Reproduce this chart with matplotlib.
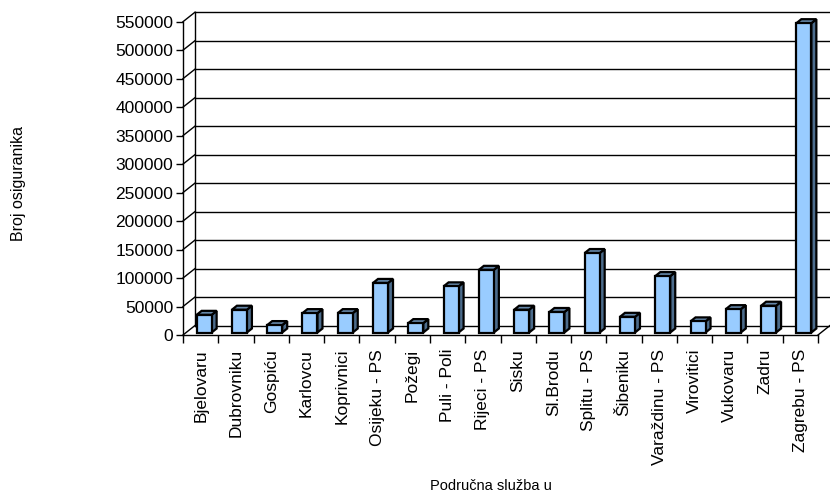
import numpy as np
import matplotlib
matplotlib.use("Agg")
import matplotlib.pyplot as plt
from matplotlib.transforms import offset_copy

plt.rcParams['font.family'] = ['Liberation Sans', 'DejaVu Sans']

# data
sluzbe = ['Bjelovaru', 'Dubrovniku', 'Gospiću', 'Karlovcu', 'Koprivnici',
          'Osijeku - PS', 'Požegi', 'Puli - Poli', 'Rijeci - PS', 'Sisku',
          'Sl.Brodu', 'Splitu - PS', 'Šibeniku', 'Varaždinu - PS',
          'Virovitici', 'Vukovaru', 'Zadru', 'Zagrebu - PS']
osiguranici = [31000, 40000, 13000, 34000, 34000, 87000, 16500, 81000,
               110000, 40000, 36000, 139500, 27500, 99000, 19500, 41000,
               47000, 543000]
y_ticks = list(range(0, 550001, 50000))

n = len(sluzbe)
W, H = 830, 497
fig = plt.figure(figsize=(W / 100, H / 100), dpi=100)
left, right, bottom, top = 183, 818, 335, 21.7
ax = fig.add_axes([left / W, 1 - bottom / H, (right - left) / W, (bottom - top) / H])
ax.set_xlim(-0.5, n - 0.5)
ax.set_ylim(0, 550000)
ax.patch.set_visible(False)

# depth of the 3d box, in pixels
DX, DY = 12, 9.5
px_per_cat = (right - left) / n
px_per_val = (bottom - top) / 550000
back = offset_copy(ax.transData, fig, x=DX, y=DY, units='dots')
x0, x1 = -0.5, n - 0.5
for t in y_ticks:
    # back wall gridline
    ax.plot([x0, x1], [t, t], color='black', lw=1.0, transform=back, clip_on=False, zorder=1)
    # side wall diagonal
    ax.plot([x0, x0 + DX / px_per_cat], [t, t + DY / px_per_val], color='black', lw=1.0,
            clip_on=False, zorder=1)
ax.plot([x0, x0], [0, 550000], color='black', lw=1.0, transform=back, clip_on=False, zorder=1)
# floor right edge
ax.plot([x1, x1 + DX / px_per_cat], [0, DY / px_per_val], color='black', lw=1.0,
        clip_on=False, zorder=1)

# bars: front face + side + top
bar_tr = offset_copy(ax.transData, fig, x=3.5, y=2.5, units='dots')
bw = 15 / px_per_cat
sd_x = 5 / px_per_cat
sd_y = 4 / px_per_val
xs = np.arange(n)
for i, v in enumerate(osiguranici):
    xl = xs[i] - bw / 2
    xr = xs[i] + bw / 2
    ax.fill([xr, xr + sd_x, xr + sd_x, xr], [0, sd_y, v + sd_y, v],
            facecolor='#4c6c8c', edgecolor='black', lw=1.6, transform=bar_tr,
            clip_on=False, zorder=3)
    ax.fill([xl, xr, xr + sd_x, xl + sd_x], [v, v, v + sd_y, v + sd_y],
            facecolor='#6688aa', edgecolor='black', lw=1.6, transform=bar_tr,
            clip_on=False, zorder=3)
ax.bar(xs, osiguranici, width=bw, color='#99ccff', edgecolor='black', lw=1.6,
       transform=bar_tr, clip_on=False, zorder=4)

# front axes
for s in ['top', 'right']:
    ax.spines[s].set_visible(False)
ax.spines['left'].set_linewidth(1.0)
ax.spines['bottom'].set_linewidth(1.0)
ax.set_yticks(y_ticks)
ax.set_yticklabels([str(t) for t in y_ticks], fontsize=12.5)
ax.tick_params(axis='y', length=5, width=1.0, pad=2)
ax.set_xticks(xs)
ax.set_xticklabels(sluzbe, rotation=90, fontsize=12.5)
ax.set_xticks(np.arange(-0.5, n, 1.0), minor=True)
ax.tick_params(axis='x', which='major', length=0, pad=10)
ax.tick_params(axis='x', which='minor', length=6, width=1.0)

fig.text(18 / W, 1 - 183 / H, 'Broj osiguranika', rotation=90, ha='center', va='center',
         fontsize=11.5)
fig.text(491 / W, 1 - 486 / H, 'Područna služba u', ha='center', va='center', fontsize=10.5)

fig.savefig('out.png', dpi=100)
